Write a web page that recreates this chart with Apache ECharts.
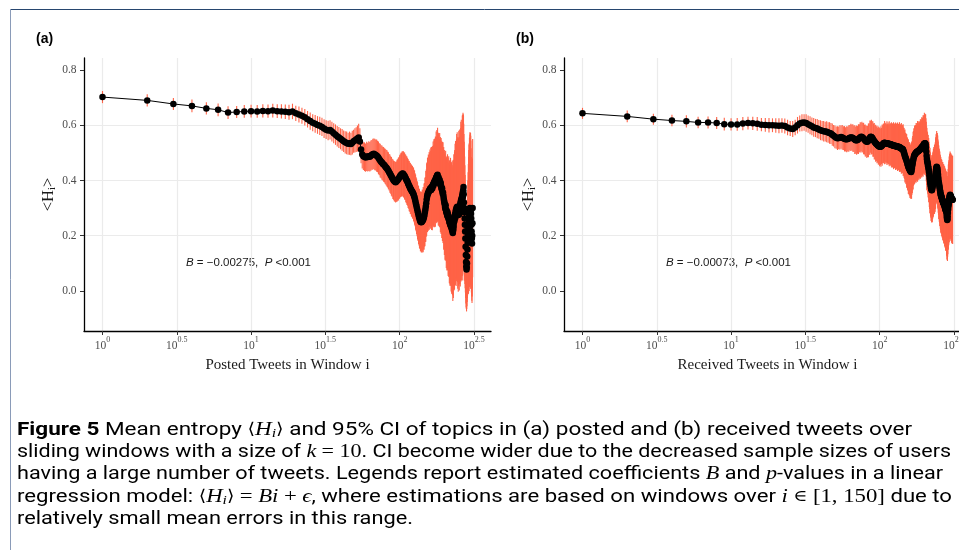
<!DOCTYPE html>
<html><head><meta charset="utf-8">
<script src="https://cdn.jsdelivr.net/npm/echarts@6/dist/echarts.min.js"></script>
<style>html,body{margin:0;padding:0;background:#fff;overflow:hidden}#c{width:959px;height:550px}</style>
</head><body><div id="c"></div><script>
// ---------- data ----------
const xTicks = [1, 3.16228, 10, 31.6228, 100, 316.228];
const xTickExp = ['0', '0.5', '1', '1.5', '2', '2.5'];
const yTicks = [0, 0.2, 0.4, 0.6, 0.8];

// panel (a): mean entropy per window i = 1..N (posted tweets)
const meanA = [
0.702,0.690,0.677,0.670,0.661,0.656,0.646,0.648,0.650,0.651,
0.650,0.652,0.651,0.653,0.651,0.650,0.649,0.647,0.650,0.643,
0.639,0.634,0.629,0.622,0.615,0.609,0.605,0.601,0.598,0.594,
0.588,0.584,0.581,0.583,0.577,0.571,0.566,0.560,0.556,0.551,
0.547,0.542,0.538,0.536,0.533,0.535,0.532,0.537,0.542,0.545,
0.548,0.552,0.556,0.541,0.512,0.494,0.488,0.486,0.483,0.487,
0.485,0.488,0.486,0.490,0.493,0.495,0.497,0.494,0.492,0.490,
0.487,0.482,0.477,0.472,0.468,0.465,0.461,0.458,0.455,0.451,
0.447,0.444,0.440,0.435,0.430,0.425,0.420,0.415,0.410,0.405,
0.401,0.398,0.395,0.394,0.396,0.399,0.402,0.405,0.409,0.413,
0.417,0.420,0.422,0.424,0.425,0.423,0.419,0.416,0.412,0.407,
0.403,0.399,0.395,0.389,0.385,0.380,0.376,0.371,0.368,0.364,
0.361,0.358,0.354,0.350,0.344,0.338,0.330,0.322,0.314,0.306,
0.298,0.290,0.282,0.275,0.268,0.262,0.256,0.252,0.250,0.249,
0.251,0.253,0.256,0.258,0.263,0.269,0.276,0.286,0.295,0.306,
0.318,0.331,0.341,0.348,0.353,0.356,0.361,0.362,0.366,0.368,
0.371,0.373,0.366,0.371,0.378,0.372,0.381,0.386,0.382,0.391,
0.395,0.391,0.401,0.396,0.405,0.411,0.404,0.415,0.418,0.421,
0.412,0.405,0.411,0.400,0.394,0.402,0.389,0.385,0.392,0.380,
0.374,0.368,0.372,0.360,0.352,0.356,0.345,0.335,0.328,0.320,
0.315,0.305,0.298,0.310,0.295,0.285,0.291,0.280,0.272,0.285,
0.278,0.268,0.262,0.270,0.258,0.250,0.262,0.245,0.240,0.252,
0.236,0.232,0.240,0.228,0.222,0.230,0.215,0.210,0.218,0.225,
0.235,0.248,0.260,0.255,0.270,0.278,0.265,0.285,0.292,0.280,
0.298,0.302,0.295,0.305,0.290,0.282,0.295,0.275,0.285,0.300,
0.288,0.278,0.292,0.305,0.312,0.300,0.318,0.325,0.310,0.330,
0.335,0.328,0.340,0.345,0.352,0.338,0.360,0.365,0.376,0.350,
0.320,0.300,0.285,0.262,0.240,0.215,0.190,0.160,0.130,0.105,
0.090,0.078,0.085,0.100,0.125,0.150,0.175,0.195,0.210,0.225,
0.240,0.255,0.265,0.275,0.285,0.290,0.300,0.295,0.288,0.298,
0.292,0.280,0.262,0.240,0.215,0.190,0.172,0.200,0.245,0.300
];
// panel (a): 95% CI half-width
const ciA = [
0.022,0.022,0.022,0.023,0.022,0.023,0.023,0.022,0.023,0.023,
0.023,0.024,0.024,0.025,0.025,0.026,0.026,0.027,0.028,0.028,
0.029,0.029,0.030,0.030,0.031,0.031,0.032,0.032,0.033,0.033,
0.034,0.034,0.035,0.035,0.036,0.036,0.037,0.037,0.038,0.038,
0.039,0.039,0.040,0.041,0.040,0.042,0.041,0.043,0.042,0.044,
0.045,0.047,0.049,0.048,0.050,0.051,0.050,0.052,0.051,0.053,
0.052,0.054,0.053,0.055,0.054,0.056,0.055,0.057,0.056,0.058,
0.057,0.059,0.058,0.061,0.060,0.062,0.061,0.063,0.062,0.064,
0.064,0.066,0.065,0.067,0.066,0.069,0.068,0.070,0.069,0.072,
0.071,0.073,0.072,0.074,0.073,0.076,0.075,0.077,0.076,0.078,
0.078,0.080,0.079,0.082,0.080,0.083,0.082,0.085,0.083,0.086,
0.085,0.088,0.086,0.089,0.087,0.091,0.089,0.092,0.090,0.094,
0.092,0.095,0.093,0.097,0.095,0.098,0.096,0.100,0.098,0.101,
0.100,0.104,0.101,0.105,0.103,0.107,0.104,0.108,0.106,0.110,
0.108,0.114,0.110,0.118,0.112,0.120,0.115,0.124,0.118,0.128,
0.122,0.131,0.125,0.135,0.128,0.138,0.130,0.141,0.133,0.144,
0.136,0.146,0.139,0.150,0.141,0.152,0.143,0.155,0.146,0.158,
0.148,0.160,0.150,0.163,0.152,0.166,0.155,0.168,0.157,0.170,
0.160,0.168,0.158,0.166,0.156,0.170,0.159,0.172,0.161,0.174,
0.163,0.176,0.166,0.179,0.169,0.182,0.172,0.186,0.175,0.190,
0.178,0.194,0.182,0.198,0.186,0.202,0.190,0.206,0.194,0.210,
0.198,0.214,0.202,0.218,0.206,0.222,0.210,0.226,0.214,0.230,
0.218,0.234,0.222,0.238,0.226,0.242,0.230,0.246,0.234,0.250,
0.230,0.246,0.236,0.250,0.240,0.255,0.244,0.258,0.248,0.262,
0.250,0.266,0.254,0.270,0.258,0.274,0.262,0.278,0.266,0.280,
0.262,0.276,0.266,0.280,0.270,0.284,0.272,0.288,0.276,0.290,
0.250,0.275,0.262,0.290,0.270,0.300,0.285,0.275,0.260,0.255,
0.248,0.240,0.232,0.225,0.215,0.205,0.195,0.185,0.175,0.165,
0.155,0.152,0.150,0.155,0.165,0.175,0.190,0.205,0.220,0.235,
0.245,0.255,0.265,0.260,0.270,0.265,0.275,0.270,0.280,0.275,
0.270,0.265,0.255,0.245,0.235,0.225,0.215,0.220,0.235,0.250
];
// panel (b): mean entropy per window i = 1..N (received tweets)
const meanB = [
0.643,0.632,0.622,0.617,0.614,0.610,0.610,0.608,0.604,0.603,
0.603,0.606,0.608,0.607,0.605,0.602,0.601,0.600,0.600,0.599,
0.598,0.599,0.597,0.592,0.588,0.586,0.592,0.600,0.606,0.609,
0.610,0.608,0.604,0.600,0.596,0.592,0.590,0.588,0.585,0.582,
0.580,0.578,0.577,0.576,0.574,0.572,0.570,0.566,0.562,0.558,
0.555,0.553,0.554,0.556,0.557,0.556,0.553,0.551,0.549,0.549,
0.550,0.552,0.555,0.556,0.556,0.554,0.551,0.548,0.546,0.546,
0.547,0.550,0.553,0.556,0.558,0.557,0.555,0.552,0.548,0.545,
0.542,0.540,0.541,0.545,0.550,0.555,0.558,0.557,0.555,0.550,
0.546,0.542,0.538,0.535,0.533,0.530,0.528,0.526,0.524,0.522,
0.522,0.523,0.525,0.528,0.531,0.534,0.536,0.537,0.536,0.535,
0.534,0.535,0.533,0.534,0.532,0.533,0.531,0.530,0.531,0.529,
0.529,0.527,0.528,0.526,0.527,0.525,0.526,0.524,0.525,0.523,
0.523,0.522,0.523,0.521,0.520,0.521,0.519,0.518,0.517,0.516,
0.515,0.514,0.513,0.510,0.505,0.500,0.494,0.489,0.484,0.480,
0.476,0.471,0.466,0.460,0.455,0.450,0.446,0.443,0.440,0.437,
0.434,0.432,0.431,0.436,0.445,0.455,0.463,0.472,0.480,0.486,
0.490,0.493,0.495,0.497,0.499,0.500,0.502,0.503,0.504,0.505,
0.506,0.507,0.508,0.509,0.510,0.510,0.512,0.514,0.515,0.517,
0.518,0.520,0.521,0.522,0.523,0.525,0.528,0.530,0.532,0.533,
0.534,0.535,0.534,0.530,0.520,0.505,0.490,0.478,0.470,0.465,
0.458,0.452,0.445,0.438,0.430,0.418,0.408,0.400,0.392,0.385,
0.378,0.372,0.368,0.365,0.366,0.370,0.376,0.382,0.388,0.392,
0.396,0.400,0.402,0.404,0.405,0.410,0.418,0.426,0.435,0.442,
0.446,0.450,0.448,0.445,0.440,0.432,0.422,0.412,0.402,0.394,
0.388,0.382,0.376,0.370,0.364,0.358,0.352,0.348,0.345,0.342,
0.340,0.336,0.333,0.330,0.328,0.326,0.323,0.320,0.318,0.316,
0.314,0.312,0.310,0.306,0.303,0.300,0.297,0.294,0.292,0.290,
0.288,0.280,0.270,0.262,0.257,0.260,0.270,0.282,0.295,0.305,
0.312,0.318,0.325,0.332,0.338,0.342,0.346,0.348,0.347,0.345,
0.342,0.340,0.338,0.336,0.334,0.333,0.332,0.331,0.330,0.330
];
// panel (b): 95% CI half-width
const ciB = [
0.020,0.021,0.020,0.021,0.022,0.021,0.022,0.022,0.023,0.022,
0.023,0.024,0.023,0.024,0.025,0.024,0.025,0.026,0.025,0.026,
0.027,0.026,0.027,0.028,0.027,0.029,0.028,0.030,0.029,0.031,
0.030,0.032,0.031,0.033,0.032,0.034,0.033,0.035,0.034,0.036,
0.035,0.037,0.036,0.038,0.037,0.039,0.038,0.040,0.039,0.041,
0.040,0.043,0.041,0.044,0.042,0.045,0.043,0.046,0.044,0.047,
0.045,0.048,0.046,0.049,0.047,0.050,0.048,0.052,0.049,0.053,
0.050,0.054,0.051,0.055,0.052,0.056,0.053,0.057,0.054,0.058,
0.055,0.059,0.056,0.061,0.057,0.062,0.058,0.063,0.059,0.064,
0.060,0.066,0.061,0.067,0.062,0.068,0.063,0.069,0.064,0.070,
0.066,0.073,0.065,0.075,0.068,0.072,0.066,0.078,0.069,0.074,
0.070,0.079,0.071,0.076,0.072,0.081,0.073,0.077,0.074,0.082,
0.075,0.080,0.076,0.085,0.077,0.081,0.078,0.086,0.079,0.083,
0.080,0.088,0.081,0.084,0.082,0.090,0.083,0.086,0.084,0.092,
0.085,0.088,0.086,0.094,0.087,0.090,0.088,0.096,0.089,0.092,
0.090,0.097,0.091,0.094,0.092,0.099,0.093,0.096,0.094,0.100,
0.095,0.098,0.096,0.102,0.097,0.100,0.098,0.104,0.099,0.102,
0.100,0.106,0.101,0.103,0.102,0.108,0.100,0.105,0.099,0.110,
0.098,0.104,0.097,0.106,0.096,0.103,0.095,0.108,0.097,0.104,
0.098,0.109,0.099,0.105,0.100,0.111,0.101,0.106,0.102,0.112,
0.103,0.107,0.104,0.110,0.105,0.108,0.106,0.112,0.107,0.109,
0.108,0.113,0.109,0.116,0.110,0.114,0.111,0.118,0.112,0.115,
0.113,0.119,0.114,0.117,0.115,0.121,0.116,0.119,0.117,0.123,
0.118,0.121,0.119,0.125,0.120,0.123,0.121,0.127,0.122,0.125,
0.123,0.129,0.124,0.127,0.125,0.131,0.126,0.129,0.127,0.133,
0.128,0.131,0.129,0.135,0.130,0.133,0.131,0.137,0.132,0.135,
0.133,0.139,0.134,0.137,0.135,0.141,0.136,0.139,0.137,0.143,
0.138,0.141,0.139,0.145,0.140,0.143,0.141,0.147,0.142,0.145,
0.143,0.149,0.144,0.147,0.145,0.151,0.146,0.149,0.147,0.153,
0.148,0.151,0.149,0.155,0.150,0.153,0.151,0.157,0.152,0.155,
0.153,0.158,0.154,0.156,0.155,0.160,0.156,0.158,0.157,0.160
];
const panelTitles = ['(a)', '(b)'];
const xNames = ['Posted Tweets in Window i', 'Received Tweets in Window i'];
const annotations = ['{i|B} = \u22120.00275,  {i|P} <0.001', '{i|B} = \u22120.00073,  {i|P} <0.001'];
const captionLines = [
  '{fb|Figure 5} Mean entropy {mb|\u27E8}{mi|H}{sub|i}{mb|\u27E9} and 95% CI of topics in (a) posted and (b) received tweets over',
  'sliding windows with a size of {mi|k} {mr|= 10}. CI become wider due to the decreased sample sizes of users',
  'having a large number of tweets. Legends report estimated coefficients {mi|B} and {mi|p}-values in a linear',
  'regression model: {mb|\u27E8}{mi|H}{sub|i}{mb|\u27E9} {mr|=} {mi|Bi} {mr|+} {mi|\u03F5}, where estimations are based on windows over {mi|i} {mb|\u2208} {mr|[1, 150]} due to',
  'relatively small mean errors in this range.'
];

// ---------- layout / style ----------
const SERIF = '"Liberation Serif", "Times New Roman", serif';
const SANS = '"Liberation Sans", Arial, sans-serif';
const CAP_FONT = 'Roboto, "Open Sans", sans-serif';
const X_MIN = 0.7508, X_MAX = 412;
const Y_MIN = -0.1448, Y_MAX = 0.8434;
const grids = [
  {left: 84, top: 58, width: 407, height: 273, outerBoundsMode: 'none', containLabel: false},
  {left: 564, top: 58, width: 407, height: 273, outerBoundsMode: 'none', containLabel: false}
];
const capX = 17, capY = [430, 452, 474, 497, 519], capRight = [912, 951, 943, 952, 413];

const chart = echarts.init(document.getElementById('c'), null, {renderer: 'canvas'});

function xAxisCfg(gi) {
  return {
    type: 'log', logBase: 10, gridIndex: gi, min: X_MIN, max: X_MAX,
    name: xNames[gi], nameLocation: 'middle', nameGap: 27,
    nameTextStyle: {fontFamily: SERIF, fontSize: 15, color: '#1a1a1a'},
    axisLine: {show: true, onZero: false, lineStyle: {color: '#000', width: 1.3}},
    axisTick: {show: true, length: 4, customValues: xTicks, lineStyle: {color: '#333', width: 1}},
    axisLabel: {
      customValues: xTicks, margin: 5, hideOverlap: false,
      formatter: function (v) {
        let k = 0, best = 1e9;
        xTicks.forEach((t, j) => { const d = Math.abs(Math.log10(t) - Math.log10(v)); if (d < best) { best = d; k = j; } });
        return '{b|10}{s|' + xTickExp[k] + '}';
      },
      rich: {
        b: {fontFamily: SERIF, fontSize: 11.5, color: '#4d4d4d', verticalAlign: 'bottom', lineHeight: 16},
        s: {fontFamily: SERIF, fontSize: 8, color: '#4d4d4d', verticalAlign: 'top', lineHeight: 7}
      }
    },
    splitLine: {show: true, lineStyle: {color: '#ebebeb', width: 1.2}},
    minorTick: {show: false}, minorSplitLine: {show: false}
  };
}
function yAxisCfg(gi) {
  return {
    type: 'value', gridIndex: gi, min: Y_MIN, max: Y_MAX,
    name: '<H{s|i}>', nameLocation: 'middle', nameGap: 26, nameRotate: 90,
    nameTextStyle: {fontFamily: SERIF, fontSize: 16.5, color: '#1a1a1a', lineHeight: 18,
      rich: {s: {fontFamily: SERIF, fontSize: 11, color: '#1a1a1a', verticalAlign: 'bottom', lineHeight: 9}}},
    axisLine: {show: true, onZero: false, lineStyle: {color: '#000', width: 1.3}},
    axisTick: {show: true, length: 4, customValues: yTicks, lineStyle: {color: '#333', width: 1}},
    axisLabel: {customValues: yTicks, margin: 7.5, fontFamily: SERIF, fontSize: 11.5, color: '#4d4d4d',
      formatter: v => v.toFixed(1)},
    splitLine: {show: true, showMinLine: false, showMaxLine: false, lineStyle: {color: '#ebebeb', width: 1.2}}
  };
}

function buildSeries(gi, means, cis) {
  const pts = means.map((m, k) => [k + 1, m]);
  const bars = means.map((m, k) => [k + 1, m - cis[k], m + cis[k]]);
  return [
    {
      type: 'custom', xAxisIndex: gi, yAxisIndex: gi, data: bars, clip: true,
      encode: {x: 0, y: [1, 2]},
      renderItem: function (params, api) {
        const x = api.value(0);
        const p1 = api.coord([x, api.value(1)]);
        const p2 = api.coord([x, api.value(2)]);
        return {type: 'line', shape: {x1: p1[0], y1: p1[1], x2: p2[0], y2: p2[1]},
          style: {stroke: '#FF6347', lineWidth: 1.1}};
      },
      z: 1, silent: true
    },
    {
      type: 'line', xAxisIndex: gi, yAxisIndex: gi, data: pts,
      symbol: 'circle', symbolSize: 6.5, showSymbol: true, showAllSymbol: true,
      itemStyle: {color: '#000'}, lineStyle: {color: '#000', width: 1},
      z: 3, silent: true
    }
  ];
}

// caption lines with measured horizontal scale
const capRich = {
  fb: {fontFamily: CAP_FONT, fontWeight: 'bold', fontSize: 18.5, lineHeight: 20},
  mi: {fontFamily: SERIF, fontStyle: 'italic', fontSize: 19, lineHeight: 20},
  mr: {fontFamily: SERIF, fontSize: 19, lineHeight: 20},
  mb: {fontFamily: '"DejaVu Serif", serif', fontSize: 16, lineHeight: 20},
  sub: {fontFamily: SERIF, fontStyle: 'italic', fontSize: 13, verticalAlign: 'bottom', lineHeight: 12}
};
const capBase = {fontFamily: CAP_FONT, fontSize: 18.5, fill: '#000', lineHeight: 20, rich: capRich};
const graphics = [
  {type: 'line', shape: {x1: 10, y1: 9.5, x2: 959, y2: 9.5}, style: {stroke: '#27466f', lineWidth: 1}},
  {type: 'line', shape: {x1: 10.5, y1: 9, x2: 10.5, y2: 550}, style: {stroke: '#8a9bb8', lineWidth: 1}}
];
panelTitles.forEach((t, gi) => {
  graphics.push({type: 'text', x: gi === 0 ? 36 : 516, y: 39,
    style: {text: t, fontFamily: SANS, fontWeight: 'bold', fontSize: 14, fill: '#000', verticalAlign: 'middle'}});
});
annotations.forEach((t, gi) => {
  graphics.push({type: 'text', x: gi === 0 ? 186 : 666, y: 263,
    style: {text: t, fontFamily: SANS, fontSize: 11.5, fill: '#1a1a1a', verticalAlign: 'middle',
      rich: {i: {fontFamily: SANS, fontStyle: 'italic', fontSize: 11.5, fill: '#1a1a1a'}}}});
});
captionLines.forEach((t, k) => {
  const probe = new echarts.graphic.Text({style: Object.assign({text: t}, capBase)});
  const w = probe.getBoundingRect().width || 1;
  const sx = (capRight[k] - capX) / w;
  graphics.push({type: 'text', x: capX, y: capY[k], scaleX: sx,
    style: Object.assign({text: t, verticalAlign: 'middle'}, capBase)});
});

const option = {
  backgroundColor: '#fff',
  animation: false,
  grid: grids,
  xAxis: [xAxisCfg(0), xAxisCfg(1)],
  yAxis: [yAxisCfg(0), yAxisCfg(1)],
  series: [].concat(buildSeries(0, meanA, ciA), buildSeries(1, meanB, ciB)),
  graphic: graphics
};
chart.setOption(option);
</script></body></html>
